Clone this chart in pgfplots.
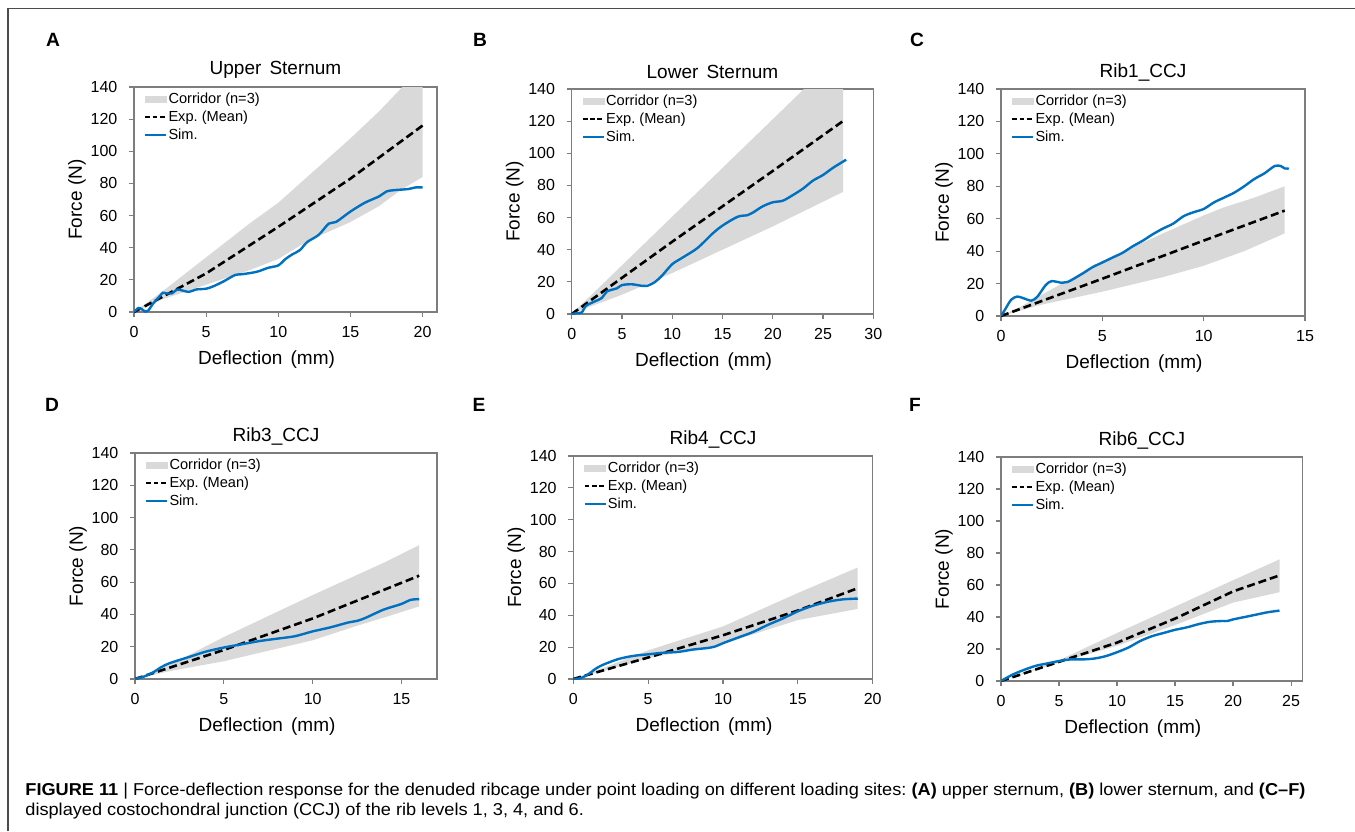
\documentclass[border=0pt]{standalone}
\usepackage{fontspec}
\setmainfont{Liberation Sans}
\usepackage{graphicx}
\usepackage{pgfplots}
\pgfplotsset{compat=1.18}
\frenchspacing
\definecolor{simblue}{RGB}{0,112,192}
\definecolor{corr}{RGB}{217,217,217}
\definecolor{axgray}{RGB}{125,125,125}
\newsavebox\capbox
\newcommand\legendstuff{%
\addlegendimage{legend image code/.code={\fill[corr] (0pt,-1.6pt) rectangle (10.5pt,1.6pt);}}
\addlegendentry{Corridor (n=3)}
\addlegendimage{legend image code/.code={\draw[black, line width=0.85pt, dash pattern=on 2.4pt off 1.2pt] (0pt,0pt) -- (10.5pt,0pt);}}
\addlegendentry{Exp.\ (Mean)}
\addlegendimage{legend image code/.code={\draw[simblue, line width=0.95pt] (0pt,0pt) -- (10.5pt,0pt);}}
\addlegendentry{Sim.}}
\pgfplotsset{
 panel/.style={
  scale only axis, ymin=0, ymax=140, ytick={0,20,...,140}, xmin=0,
  axis line style={axgray, line width=0.6pt},
  every tick/.style={axgray, line width=0.6pt},
  tick align=outside, major tick length=2.5pt, tick pos=left,
  /pgf/number format/assume math mode=true,
  tick label style={font=\fontsize{8}{9}\selectfont},
  xticklabel style={yshift=-1.3pt},
  yticklabel style={xshift=-2.3pt},
  every axis title/.style={at={(axis description cs:0.5,1)}, anchor=center, xshift=-5pt, yshift=8.5pt, font=\fontsize{9.5}{11}\selectfont},
  every axis x label/.style={at={(axis description cs:0.5,0)}, anchor=center, xshift=-9.5pt, yshift=-24pt, font=\fontsize{9.5}{11}\selectfont},
  every axis y label/.style={at={(axis description cs:0,0.5)}, xshift=-28.5pt, rotate=90, anchor=center, font=\fontsize{9.5}{11}\selectfont},
  xlabel={Deflection\hspace{0.15em} (mm)}, ylabel={Force (N)},
  legend style={at={(axis description cs:0,1)}, anchor=north west, xshift=5pt, yshift=-1.8pt,
    draw=none, fill=none, inner sep=0pt, row sep=0.8pt,
    font=\fontsize{7.3}{8}\selectfont,
    nodes={inner sep=0.6pt, text height=5.5pt, text depth=1.5pt}},
  legend cell align=left,
 },
 corridor/.style={fill=corr, draw=none, forget plot},
 mean/.style={black, line width=1.3pt, dash pattern=on 4pt off 2pt, forget plot},
 sim/.style={simblue, line width=1.2pt, smooth, forget plot},
}
\begin{document}
\begin{tikzpicture}
\path[use as bounding box] (0,0) rectangle (677.5pt,-415.5pt);
\draw[black!70, line width=0.75pt] (4pt,-415.5pt) -- (4pt,-4.25pt) -- (677.5pt,-4.25pt);

% ---------- A ----------
\begin{axis}[panel, at={(67pt,-156pt)}, anchor=south west, width=151.5pt, height=112.5pt,
  xmax=21, xtick={0,5,...,20}, title={Upper\hspace{0.15em} Sternum}]
\addplot[corridor] coordinates {(0,0) (2,13) (5,34) (8,55) (10,68) (12,84) (15,108) (17,125) (18.6,140) (20,152)
 (20,84) (18.5,76) (17,66) (15,56) (13.5,50) (12,44) (10,33) (8,26) (5,17) (2,8) (0,0)};
\addplot[mean] coordinates {(0,0) (5,24) (10,53) (15,83) (20,116)};
\addplot[sim] coordinates {(0,0) (0.3,2.5) (0.5,2) (0.8,0.2) (1,1) (1.3,5) (1.8,10) (2,12) (2.3,11.5) (2.6,11.5) (3,14) (3.3,13.5) (3.8,12.5) (4.3,14) (5,14.5) (5.5,16) (6.2,19) (7,23) (7.5,23.5) (8.5,25) (9.3,27.5) (10,29) (10.5,33) (11,36) (11.5,38.5) (12,43.5) (12.8,48) (13.5,55) (14,56) (15,62.5) (16,68) (17,72) (17.5,75) (18,75.8) (19,76.5) (19.5,77.5) (20,77.5)};
\legendstuff
\end{axis}

% ---------- B ----------
\begin{axis}[panel, at={(285.85pt,-157pt)}, anchor=south west, width=150.8pt, height=112.5pt,
  xmax=30, xtick={0,5,...,30}, title={Lower\hspace{0.15em} Sternum}]
\addplot[corridor] coordinates {(0,0) (10,60.6) (23.1,140) (27,164) (27,76) (20,54.5) (15,40) (10,25.5) (5,12) (2,5) (0,0)};
\addplot[mean] coordinates {(0,0) (10,45) (20,89) (27.2,121)};
\addplot[sim] coordinates {(0,0) (0.5,0.5) (1,1) (1.4,5) (2,7) (3,10) (3.5,14) (4.5,16) (5,18) (6,18.5) (7,17.5) (7.5,17.5) (8.3,20) (9,24) (10,31) (11,35) (12.5,41) (14,50) (15,55) (16.5,60.5) (17.5,61.5) (18,63) (19,67) (20,69.5) (21,70.5) (22,74) (23,78) (24,83) (25,86.5) (26,91) (27.3,96)};
\legendstuff
\end{axis}

% ---------- C ----------
\begin{axis}[panel, at={(500.5pt,-158pt)}, anchor=south west, width=152pt, height=113.5pt,
  xmax=15, xtick={0,5,...,15}, title={Rib1\_CCJ}]
\addplot[corridor] coordinates {(0,0) (1,6) (2,13) (3,20) (5,34) (8,51) (10,62) (11,67) (12.5,73) (14,80) (14,51) (12,40) (10,31) (8,24) (5,15) (2,7) (0,0)};
\addplot[mean] coordinates {(0,0) (5,23) (10,46.5) (14,65)};
\addplot[sim] coordinates {(0,0) (0.2,4) (0.5,10) (0.8,12) (1.1,11) (1.5,9.5) (1.8,12) (2.2,19) (2.5,21.5) (3,20.5) (3.3,21) (4,26) (4.5,30) (5,33) (5.5,36) (6,39) (6.5,43) (7,46.5) (7.5,50.5) (8,54) (8.5,57) (9,61.5) (9.5,64) (10,66) (10.5,70) (11,73) (11.5,76) (12,80) (12.5,84.5) (13,88) (13.5,92.5) (13.8,92.5) (14,91) (14.2,91)};
\legendstuff
\end{axis}

% ---------- D ----------
\begin{axis}[panel, at={(67.5pt,-339.5pt)}, anchor=south west, width=151pt, height=113pt,
  xmax=17, xtick={0,5,...,15}, title={Rib3\_CCJ}]
\addplot[corridor] coordinates {(0,0) (2,9) (5,26) (10,52) (14,72) (16,83) (16,45) (14,38) (12.5,33) (10,24) (5,11) (2,5) (0,0)};
\addplot[mean] coordinates {(0,0) (5,18) (10,37.5) (16,64)};
\addplot[sim] coordinates {(0,0) (0.5,1.5) (1,4) (1.5,7.5) (2,10) (3,13.5) (4,17) (5,19.5) (6,21.5) (7,23.5) (8,25) (9,26.5) (10,29.5) (11,32) (12,35) (12.5,36) (13,38) (14,43) (15,46.5) (15.5,49) (16,49.5)};
\legendstuff
\end{axis}

% ---------- E ----------
\begin{axis}[panel, at={(286.65pt,-339.5pt)}, anchor=south west, width=149.7pt, height=111.5pt,
  xmax=20, xtick={0,5,...,20}, title={Rib4\_CCJ}]
\addplot[corridor] coordinates {(0,0) (2,7) (5,18) (10,33) (15,54) (19,70) (19,44) (15,37) (10,22) (5,13) (2,5) (0,0)};
\addplot[mean] coordinates {(0,0) (5,13.5) (10,27.5) (15,43) (19,57)};
\addplot[sim] coordinates {(0,0) (0.5,0.5) (1,3) (1.5,6.5) (2,9) (3,12.5) (4,14.5) (5,15.5) (6,16.5) (7,17) (8,18.5) (9,19.5) (9.5,20.5) (10,22.5) (11,26) (12,29.5) (13,34) (14,38) (15,42.5) (16,46) (17,48.5) (18,50) (19,50.5)};
\legendstuff
\end{axis}

% ---------- F ----------
\begin{axis}[panel, at={(500.5pt,-340.5pt)}, anchor=south west, width=150.85pt, height=112pt,
  xmax=26, xtick={0,5,...,25}, title={Rib6\_CCJ}]
\addplot[corridor] coordinates {(0,0) (5,13) (10,30) (15,46.5) (20,63) (24,76) (24,55.5) (20,49) (15,35) (10,22) (5,11.5) (0,0)};
\addplot[mean] coordinates {(0,0) (5,12) (10,24) (15,39) (20,56) (24,66)};
\addplot[sim] coordinates {(0,0) (1,4) (2,7) (3,9.5) (4,11) (5,12.5) (6,13.5) (7,13.5) (8,14) (9,15.5) (10,18) (11,21) (12,25) (13,28) (14,30) (15,32) (16,33.5) (17,35.5) (18,37) (19,37.5) (19.5,37.5) (20,38.5) (21,40) (22,41.5) (23,43) (24,44)};
\legendstuff
\end{axis}

% panel letters
\foreach \l/\x/\y in {A/26.5/-20, B/240/-20, C/458.5/-20, D/26/-202.5, E/239.5/-202.5, F/457.5/-202.5}
  \node[font=\bfseries\fontsize{9.6}{11}\selectfont, inner sep=0pt] at (\x pt,\y pt) {\l};

% caption
\node[anchor=base west, inner sep=0pt] at (12.5pt,-397.5pt) {\fontsize{8.6}{10}\selectfont
  \sbox\capbox{\textbf{FIGURE 11} | Force-deflection response for the denuded ribcage under point loading on different loading sites: \textbf{(A)} upper sternum, \textbf{(B)} lower sternum, and \textbf{(C–F)}}%
  \pgfmathsetmacro\cs{640/\the\wd\capbox}\xdef\capscale{\cs}%
  \scalebox{\capscale}[1]{\usebox\capbox}};
\node[anchor=base west, inner sep=0pt] at (12.5pt,-407.5pt) {\fontsize{8.6}{10}\selectfont
  \scalebox{\capscale}[1]{displayed costochondral junction (CCJ) of the rib levels 1, 3, 4, and 6.}};
\end{tikzpicture}
\end{document}
